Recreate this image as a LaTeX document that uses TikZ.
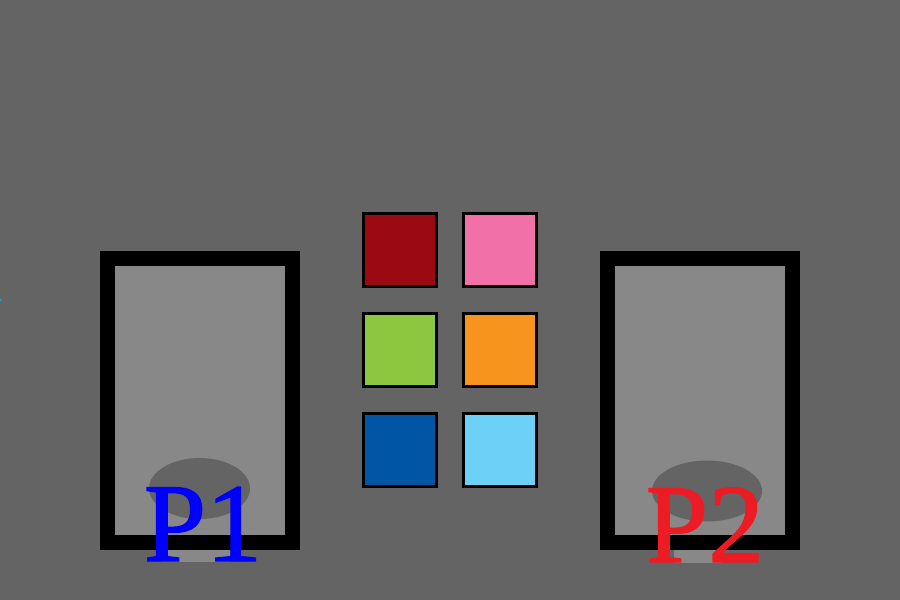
\documentclass[tikz,border=0pt]{standalone}
\usepackage{fontspec}
\setmainfont{Liberation Serif}
\newfontfamily\playerfont[FakeBold=1.3]{Liberation Serif}
\usepackage{xcolor}
\definecolor{boardgray}{HTML}{646464}
\definecolor{panelgray}{HTML}{888888}
\definecolor{tilered}{HTML}{9B0A12}
\definecolor{tilepink}{HTML}{F270A8}
\definecolor{tilegreen}{HTML}{8DC63F}
\definecolor{tileorange}{HTML}{F7941E}
\definecolor{tileblue}{HTML}{0055A5}
\definecolor{tilesky}{HTML}{6DD0F7}
\definecolor{playerblue}{HTML}{0000FF}
\definecolor{playerred}{HTML}{ED1C24}
\definecolor{markcyan}{HTML}{1E9BE0}

\tikzset{
  tile/.style={draw=black, line width=3pt, minimum size=73pt, inner sep=0pt, outer sep=0pt},
  playerlabel/.style={font=\playerfont\fontsize{112}{112}\selectfont, inner sep=0pt, anchor=base}
}

\begin{document}
\begin{tikzpicture}[x=1pt, y=-1pt]
  % Board
  \fill[boardgray] (0,0) rectangle (900,600);
  \useasboundingbox (0,0) rectangle (900,600);

  % Small mark on the left edge
  \fill[markcyan] (0.5,300) circle (1.5);

  % Player 1 panel
  \fill[panelgray] (107.5,258.5) rectangle (292.5,542.5);
  \fill[panelgray] (162,542) rectangle (230,562);
  \fill[boardgray] (199.5,488.5) ellipse (50.5 and 30.5);
  \draw[black, line width=15pt] (107.5,258.5) rectangle (292.5,542.5);
  \node[playerlabel, text=playerblue] (p1label) at (203,561) {P1};

  % Player 2 panel
  \fill[panelgray] (607.5,258.5) rectangle (792.5,542.5);
  \fill[panelgray] (674,542) rectangle (722,563);
  \fill[boardgray] (707,491) ellipse (55 and 30.5);
  \draw[black, line width=15pt] (607.5,258.5) rectangle (792.5,542.5);
  \node[playerlabel, text=playerred] (p2label) at (705,562) {P2};

  % Colour tiles
  \node[tile, fill=tilered]    (redtile)    at (400,250) {};
  \node[tile, fill=tilepink]   (pinktile)   at (500,250) {};
  \node[tile, fill=tilegreen]  (greentile)  at (400,350) {};
  \node[tile, fill=tileorange] (orangetile) at (500,350) {};
  \node[tile, fill=tileblue]   (bluetile)   at (400,450) {};
  \node[tile, fill=tilesky]    (skytile)    at (500,450) {};
\end{tikzpicture}
\end{document}
